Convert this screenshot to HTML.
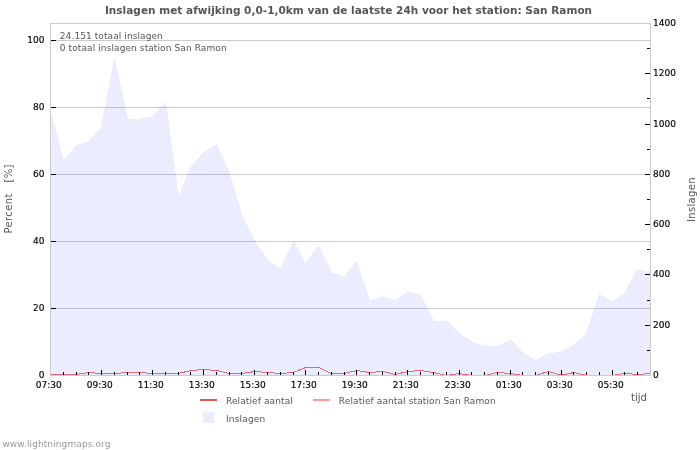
<!DOCTYPE html>
<html><head><meta charset="utf-8"><style>
html,body{margin:0;padding:0;background:#fff;}
body{width:700px;height:450px;overflow:hidden;position:relative;}
svg{position:absolute;left:0;top:0;will-change:transform;}
text{font-family:"DejaVu Sans","Liberation Sans",sans-serif;}
</style></head><body>
<svg width="700" height="450" viewBox="0 0 700 450">
<rect x="0" y="0" width="700" height="450" fill="#fff"/>
<path d="M51,375V114H52V118H53V122H54V125H55V129H56V133H57V136H58V140H59V144H60V148H61V151H62V155H63V159H65V158H66V156H67V155H68V154H69V153H70V152H71V151H72V150H73V148H74V147H75V146H76V145H79V144H82V143H85V142H88V141H89V140H90V139H91V138H92V137H93V136H94V135H95V133H96V132H97V131H98V130H99V129H100V128H101V125H102V120H103V114H104V109H105V104H106V98H107V93H108V88H109V82H110V77H111V72H112V66H113V61H114V58H115V61H116V66H117V70H118V75H119V80H120V84H121V89H122V94H123V98H124V103H125V108H126V112H127V117H128V119H139V118H146V117H152V116H153V115H154V114H155V113H156V112H157V111H158V110H159V108H160V107H161V106H162V105H163V104H164V103H165V102H166V106H167V113H168V121H169V128H170V135H171V143H172V150H173V157H174V165H175V172H176V179H177V187H178V194H180V191H181V189H182V186H183V184H184V181H185V179H186V176H187V174H188V171H189V169H190V167H191V166H192V165H193V163H194V162H195V161H196V160H197V159H198V158H199V157H200V155H201V154H202V153H203V152H205V151H206V150H208V149H210V148H211V147H213V146H214V145H216V144H217V146H218V148H219V150H220V152H221V155H222V157H223V159H224V161H225V163H226V166H227V168H228V170H229V172H230V175H231V179H232V182H233V185H234V189H235V192H236V196H237V199H238V203H239V206H240V209H241V213H242V216H243V218H244V220H245V222H246V224H247V226H248V228H249V230H250V232H251V234H252V236H253V238H254V240H255V242H256V244H257V245H258V246H259V248H260V249H261V250H262V252H263V253H264V255H265V256H266V257H267V259H268V260H269V261H271V262H272V263H273V264H275V265H276V266H277V267H278V268H281V266H282V264H283V262H284V260H285V258H286V256H287V253H288V251H289V249H290V247H291V245H292V243H293V241H294V242H295V244H296V246H297V248H298V250H299V252H300V253H301V255H302V257H303V259H304V261H305V263H306V261H307V260H308V259H309V257H310V256H311V255H312V253H313V252H314V250H315V249H316V248H317V246H318V245H319V247H320V249H321V251H322V253H323V255H324V257H325V259H326V261H327V263H328V265H329V267H330V269H331V271H332V273H335V274H339V275H342V276H345V275H346V273H347V272H348V271H349V270H350V268H351V267H352V266H353V265H354V263H355V262H356V261H357V263H358V266H359V269H360V272H361V275H362V278H363V281H364V284H365V287H366V290H367V293H368V296H369V299H370V300H372V299H376V298H379V297H382V296H383V297H386V298H390V299H393V300H396V299H398V298H399V297H400V296H402V295H403V294H404V293H406V292H407V291H408V292H412V293H417V294H421V296H422V298H423V300H424V302H425V304H426V306H427V308H428V310H429V312H430V314H431V316H432V318H433V320H434V321H446V320H447V321H448V322H449V323H450V324H451V325H452V326H453V327H454V328H455V329H456V330H457V331H458V332H459V333H460V334H462V335H463V336H465V337H466V338H468V339H469V340H471V341H472V342H475V343H477V344H480V345H482V346H499V345H501V344H503V343H504V342H506V341H508V340H510V339H511V340H512V341H513V342H514V343H515V344H516V345H517V347H518V348H519V349H520V350H521V351H522V352H523V353H525V354H526V355H528V356H530V357H531V358H533V359H534V360H537V359H539V358H541V357H542V356H544V355H546V354H548V353H555V352H561V351H563V350H565V349H567V348H569V347H571V346H573V345H574V344H575V343H576V342H577V341H578V340H580V339H581V338H582V337H583V336H584V335H585V334H586V332H587V329H588V326H589V323H590V320H591V317H592V314H593V311H594V308H595V305H596V302H597V299H598V296H599V294H600V295H602V296H604V297H606V298H607V299H609V300H611V301H614V300H615V299H617V298H618V297H620V296H621V295H623V294H624V293H625V291H626V289H627V287H628V285H629V283H630V282H631V280H632V278H633V276H634V274H635V272H636V270H637V269H638V270H645V271H650V375Z" fill="#ECECFF" shape-rendering="crispEdges"/>
<g stroke="#000" stroke-opacity="0.2" stroke-width="1" shape-rendering="crispEdges">
<line x1="50" y1="40.5" x2="650" y2="40.5"/>
<line x1="50" y1="107.5" x2="650" y2="107.5"/>
<line x1="50" y1="174.5" x2="650" y2="174.5"/>
<line x1="50" y1="241.5" x2="650" y2="241.5"/>
<line x1="50" y1="308.5" x2="650" y2="308.5"/>
</g>
<g stroke="#DC1428" stroke-opacity="0.6" stroke-width="1" stroke-linecap="square" shape-rendering="crispEdges">
<line x1="50.50" y1="374.5" x2="63.27" y2="374.5"/>
<line x1="63.27" y1="374.5" x2="76.03" y2="374.5"/>
<line x1="76.03" y1="374.5" x2="88.80" y2="372.5"/>
<line x1="88.80" y1="372.5" x2="101.56" y2="373.5"/>
<line x1="101.56" y1="373.5" x2="114.33" y2="373.5"/>
<line x1="114.33" y1="373.5" x2="127.10" y2="372.5"/>
<line x1="127.10" y1="372.5" x2="139.86" y2="372.5"/>
<line x1="139.86" y1="372.5" x2="152.63" y2="373.5"/>
<line x1="152.63" y1="373.5" x2="165.39" y2="373.5"/>
<line x1="165.39" y1="373.5" x2="178.16" y2="373.5"/>
<line x1="178.16" y1="373.5" x2="190.93" y2="370.5"/>
<line x1="190.93" y1="370.5" x2="203.69" y2="369.5"/>
<line x1="203.69" y1="369.5" x2="216.46" y2="370.5"/>
<line x1="216.46" y1="370.5" x2="229.22" y2="373.5"/>
<line x1="229.22" y1="373.5" x2="241.99" y2="373.5"/>
<line x1="241.99" y1="373.5" x2="254.76" y2="371.5"/>
<line x1="254.76" y1="371.5" x2="267.52" y2="372.5"/>
<line x1="267.52" y1="372.5" x2="280.29" y2="373.5"/>
<line x1="280.29" y1="373.5" x2="293.05" y2="372.5"/>
<line x1="293.05" y1="372.5" x2="305.82" y2="367.5"/>
<line x1="305.82" y1="367.5" x2="318.59" y2="367.5"/>
<line x1="318.59" y1="367.5" x2="331.35" y2="373.5"/>
<line x1="331.35" y1="373.5" x2="344.12" y2="373.5"/>
<line x1="344.12" y1="373.5" x2="356.88" y2="370.5"/>
<line x1="356.88" y1="370.5" x2="369.65" y2="372.5"/>
<line x1="369.65" y1="372.5" x2="382.41" y2="371.5"/>
<line x1="382.41" y1="371.5" x2="395.18" y2="374.5"/>
<line x1="395.18" y1="374.5" x2="407.95" y2="371.5"/>
<line x1="407.95" y1="371.5" x2="420.71" y2="370.5"/>
<line x1="420.71" y1="370.5" x2="433.48" y2="372.5"/>
<line x1="433.48" y1="372.5" x2="446.24" y2="375.5"/>
<line x1="446.24" y1="375.5" x2="459.01" y2="373.5"/>
<line x1="459.01" y1="373.5" x2="471.78" y2="375.5"/>
<line x1="471.78" y1="375.5" x2="484.54" y2="375.5"/>
<line x1="484.54" y1="375.5" x2="497.31" y2="372.5"/>
<line x1="497.31" y1="372.5" x2="510.07" y2="373.5"/>
<line x1="510.07" y1="373.5" x2="522.84" y2="375.5"/>
<line x1="522.84" y1="375.5" x2="535.61" y2="375.5"/>
<line x1="535.61" y1="375.5" x2="548.37" y2="371.5"/>
<line x1="548.37" y1="371.5" x2="561.14" y2="375.2"/>
<line x1="561.14" y1="375.2" x2="573.90" y2="372.5"/>
<line x1="573.90" y1="372.5" x2="586.67" y2="375.5"/>
<line x1="586.67" y1="375.5" x2="599.44" y2="375.5"/>
<line x1="599.44" y1="375.5" x2="612.20" y2="375.5"/>
<line x1="612.20" y1="375.5" x2="624.97" y2="373.3"/>
<line x1="624.97" y1="373.3" x2="637.73" y2="374.5"/>
<line x1="637.73" y1="374.5" x2="650.50" y2="373.5"/>
</g>
<rect x="50.5" y="23.5" width="600" height="352" fill="none" stroke="#cccccc" stroke-width="1" shape-rendering="crispEdges"/>
<g stroke="#000" stroke-width="1" shape-rendering="crispEdges">
<line x1="63.5" y1="372" x2="63.5" y2="375"/>
<line x1="76.5" y1="372" x2="76.5" y2="375"/>
<line x1="88.5" y1="372" x2="88.5" y2="375"/>
<line x1="101.5" y1="370" x2="101.5" y2="375"/>
<line x1="114.5" y1="372" x2="114.5" y2="375"/>
<line x1="127.5" y1="372" x2="127.5" y2="375"/>
<line x1="139.5" y1="372" x2="139.5" y2="375"/>
<line x1="152.5" y1="370" x2="152.5" y2="375"/>
<line x1="165.5" y1="372" x2="165.5" y2="375"/>
<line x1="178.5" y1="372" x2="178.5" y2="375"/>
<line x1="190.5" y1="372" x2="190.5" y2="375"/>
<line x1="203.5" y1="370" x2="203.5" y2="375"/>
<line x1="216.5" y1="372" x2="216.5" y2="375"/>
<line x1="229.5" y1="372" x2="229.5" y2="375"/>
<line x1="241.5" y1="372" x2="241.5" y2="375"/>
<line x1="254.5" y1="370" x2="254.5" y2="375"/>
<line x1="267.5" y1="372" x2="267.5" y2="375"/>
<line x1="280.5" y1="372" x2="280.5" y2="375"/>
<line x1="293.5" y1="372" x2="293.5" y2="375"/>
<line x1="305.5" y1="370" x2="305.5" y2="375"/>
<line x1="318.5" y1="372" x2="318.5" y2="375"/>
<line x1="331.5" y1="372" x2="331.5" y2="375"/>
<line x1="344.5" y1="372" x2="344.5" y2="375"/>
<line x1="356.5" y1="370" x2="356.5" y2="375"/>
<line x1="369.5" y1="372" x2="369.5" y2="375"/>
<line x1="382.5" y1="372" x2="382.5" y2="375"/>
<line x1="395.5" y1="372" x2="395.5" y2="375"/>
<line x1="407.5" y1="370" x2="407.5" y2="375"/>
<line x1="420.5" y1="372" x2="420.5" y2="375"/>
<line x1="433.5" y1="372" x2="433.5" y2="375"/>
<line x1="446.5" y1="372" x2="446.5" y2="375"/>
<line x1="459.5" y1="370" x2="459.5" y2="375"/>
<line x1="471.5" y1="372" x2="471.5" y2="375"/>
<line x1="484.5" y1="372" x2="484.5" y2="375"/>
<line x1="497.5" y1="372" x2="497.5" y2="375"/>
<line x1="510.5" y1="370" x2="510.5" y2="375"/>
<line x1="522.5" y1="372" x2="522.5" y2="375"/>
<line x1="535.5" y1="372" x2="535.5" y2="375"/>
<line x1="548.5" y1="372" x2="548.5" y2="375"/>
<line x1="561.5" y1="370" x2="561.5" y2="375"/>
<line x1="573.5" y1="372" x2="573.5" y2="375"/>
<line x1="586.5" y1="372" x2="586.5" y2="375"/>
<line x1="599.5" y1="372" x2="599.5" y2="375"/>
<line x1="612.5" y1="370" x2="612.5" y2="375"/>
<line x1="624.5" y1="372" x2="624.5" y2="375"/>
<line x1="637.5" y1="372" x2="637.5" y2="375"/>
<line x1="647" y1="350.5" x2="650" y2="350.5"/>
<line x1="645" y1="325.5" x2="650" y2="325.5"/>
<line x1="647" y1="300.5" x2="650" y2="300.5"/>
<line x1="645" y1="274.5" x2="650" y2="274.5"/>
<line x1="647" y1="249.5" x2="650" y2="249.5"/>
<line x1="645" y1="224.5" x2="650" y2="224.5"/>
<line x1="647" y1="199.5" x2="650" y2="199.5"/>
<line x1="645" y1="174.5" x2="650" y2="174.5"/>
<line x1="647" y1="149.5" x2="650" y2="149.5"/>
<line x1="645" y1="124.5" x2="650" y2="124.5"/>
<line x1="647" y1="98.5" x2="650" y2="98.5"/>
<line x1="645" y1="73.5" x2="650" y2="73.5"/>
<line x1="647" y1="48.5" x2="650" y2="48.5"/>
<line x1="51" y1="40.5" x2="56" y2="40.5"/>
<line x1="51" y1="107.5" x2="56" y2="107.5"/>
<line x1="51" y1="174.5" x2="56" y2="174.5"/>
<line x1="51" y1="241.5" x2="56" y2="241.5"/>
<line x1="51" y1="308.5" x2="56" y2="308.5"/>
</g>
<g shape-rendering="crispEdges">
<line x1="200" y1="400" x2="217" y2="400" stroke="#E45858" stroke-width="2"/>
<line x1="313" y1="400" x2="330" y2="400" stroke="#FF9999" stroke-width="2"/>
<rect x="203" y="412" width="11" height="11" fill="#ECECFF"/>
</g>
<text id="title" x="348.5" y="14" font-size="10.5" fill="#555" font-weight="bold" text-anchor="middle" textLength="487.2" lengthAdjust="spacing" xml:space="preserve">Inslagen met afwijking 0,0-1,0km van de laatste 24h voor het station: San Ramon</text>
<text id="info1" x="59.8" y="39" font-size="9" fill="#555" textLength="103.0" lengthAdjust="spacing" xml:space="preserve">24.151 totaal inslagen</text>
<text id="info2" x="59.8" y="51" font-size="9" fill="#555" textLength="166.8" lengthAdjust="spacing" xml:space="preserve">0 totaal inslagen station San Ramon</text>
<text id="tijd" x="631" y="401" font-size="10" fill="#555" xml:space="preserve">tijd</text>
<text id="percent" transform="translate(12.2,233.5) rotate(-90)" font-size="10" fill="#555" textLength="69" lengthAdjust="spacing" xml:space="preserve">Percent   [%]</text>
<text id="inslR" transform="translate(694.5,222) rotate(-90)" font-size="10" fill="#555" textLength="44.6" lengthAdjust="spacing" xml:space="preserve">Inslagen</text>
<text id="leg1" x="226" y="404" font-size="9" fill="#555" textLength="66.8" lengthAdjust="spacing" xml:space="preserve">Relatief aantal</text>
<text id="leg2" x="338.8" y="404" font-size="9" fill="#555" textLength="156.9" lengthAdjust="spacing" xml:space="preserve">Relatief aantal station San Ramon</text>
<text id="leg3" x="226" y="422" font-size="9" fill="#555" textLength="39.2" lengthAdjust="spacing" xml:space="preserve">Inslagen</text>
<text id="www" x="2.4" y="447" font-size="9" fill="#999" textLength="108.0" lengthAdjust="spacing" xml:space="preserve">www.lightningmaps.org</text>
<text id="L100" x="44.5" y="43" font-size="9" fill="#000" text-anchor="end" stroke="#000" stroke-width="0.15" xml:space="preserve">100</text>
<text id="L80" x="44.5" y="110" font-size="9" fill="#000" text-anchor="end" stroke="#000" stroke-width="0.15" xml:space="preserve">80</text>
<text id="L60" x="44.5" y="177" font-size="9" fill="#000" text-anchor="end" stroke="#000" stroke-width="0.15" xml:space="preserve">60</text>
<text id="L40" x="44.5" y="244" font-size="9" fill="#000" text-anchor="end" stroke="#000" stroke-width="0.15" xml:space="preserve">40</text>
<text id="L20" x="44.5" y="311" font-size="9" fill="#000" text-anchor="end" stroke="#000" stroke-width="0.15" xml:space="preserve">20</text>
<text id="L0" x="44.5" y="378" font-size="9" fill="#000" text-anchor="end" stroke="#000" stroke-width="0.15" xml:space="preserve">0</text>
<text id="R0" x="653" y="378" font-size="9" fill="#000" stroke="#000" stroke-width="0.15" xml:space="preserve">0</text>
<text id="R200" x="653" y="328" font-size="9" fill="#000" stroke="#000" stroke-width="0.15" xml:space="preserve">200</text>
<text id="R400" x="653" y="277" font-size="9" fill="#000" stroke="#000" stroke-width="0.15" xml:space="preserve">400</text>
<text id="R600" x="653" y="227" font-size="9" fill="#000" stroke="#000" stroke-width="0.15" xml:space="preserve">600</text>
<text id="R800" x="653" y="177" font-size="9" fill="#000" stroke="#000" stroke-width="0.15" xml:space="preserve">800</text>
<text id="R1000" x="653" y="127" font-size="9" fill="#000" stroke="#000" stroke-width="0.15" xml:space="preserve">1000</text>
<text id="R1200" x="653" y="76" font-size="9" fill="#000" stroke="#000" stroke-width="0.15" xml:space="preserve">1200</text>
<text id="R1400" x="653" y="26" font-size="9" fill="#000" stroke="#000" stroke-width="0.15" xml:space="preserve">1400</text>
<text id="T0" x="48.7" y="388" font-size="9" fill="#000" text-anchor="middle" stroke="#000" stroke-width="0.15" xml:space="preserve">07:30</text>
<text id="T1" x="99.7" y="388" font-size="9" fill="#000" text-anchor="middle" stroke="#000" stroke-width="0.15" xml:space="preserve">09:30</text>
<text id="T2" x="150.7" y="388" font-size="9" fill="#000" text-anchor="middle" stroke="#000" stroke-width="0.15" xml:space="preserve">11:30</text>
<text id="T3" x="201.7" y="388" font-size="9" fill="#000" text-anchor="middle" stroke="#000" stroke-width="0.15" xml:space="preserve">13:30</text>
<text id="T4" x="252.7" y="388" font-size="9" fill="#000" text-anchor="middle" stroke="#000" stroke-width="0.15" xml:space="preserve">15:30</text>
<text id="T5" x="303.7" y="388" font-size="9" fill="#000" text-anchor="middle" stroke="#000" stroke-width="0.15" xml:space="preserve">17:30</text>
<text id="T6" x="354.7" y="388" font-size="9" fill="#000" text-anchor="middle" stroke="#000" stroke-width="0.15" xml:space="preserve">19:30</text>
<text id="T7" x="405.7" y="388" font-size="9" fill="#000" text-anchor="middle" stroke="#000" stroke-width="0.15" xml:space="preserve">21:30</text>
<text id="T8" x="457.7" y="388" font-size="9" fill="#000" text-anchor="middle" stroke="#000" stroke-width="0.15" xml:space="preserve">23:30</text>
<text id="T9" x="508.7" y="388" font-size="9" fill="#000" text-anchor="middle" stroke="#000" stroke-width="0.15" xml:space="preserve">01:30</text>
<text id="T10" x="559.7" y="388" font-size="9" fill="#000" text-anchor="middle" stroke="#000" stroke-width="0.15" xml:space="preserve">03:30</text>
<text id="T11" x="610.7" y="388" font-size="9" fill="#000" text-anchor="middle" stroke="#000" stroke-width="0.15" xml:space="preserve">05:30</text>
</svg>
</body></html>
